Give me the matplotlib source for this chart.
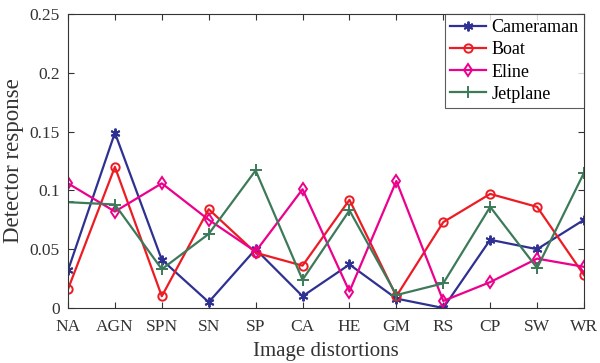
import matplotlib
matplotlib.use("Agg")
import matplotlib.pyplot as plt

categories = ["NA", "AGN", "SPN", "SN", "SP", "CA", "HE", "GM", "RS", "CP", "SW", "WR"]
cameraman = [0.032, 0.149, 0.041, 0.005, 0.050, 0.010, 0.037, 0.008, 0.000, 0.058, 0.050, 0.075]
boat = [0.016, 0.120, 0.010, 0.084, 0.047, 0.036, 0.092, 0.010, 0.073, 0.097, 0.086, 0.028]
eline = [0.106, 0.082, 0.106, 0.075, 0.048, 0.101, 0.014, 0.108, 0.006, 0.022, 0.042, 0.035]
jetplane = [0.090, 0.088, 0.033, 0.063, 0.117, 0.024, 0.083, 0.011, 0.021, 0.086, 0.034, 0.115]
yticks = [0, 0.05, 0.1, 0.15, 0.2, 0.25]
ytick_labels = ["0", "0.05", "0.1", "0.15", "0.2", "0.25"]

plt.rcParams['font.family'] = ['Liberation Serif', 'DejaVu Serif']
plt.rcParams['mathtext.fontset'] = 'stix'

fig = plt.figure(figsize=(6.0, 3.63), dpi=100)
ax = fig.add_axes([68/600, 1-308/363, (584-68)/600, (308-14)/363])

x = list(range(len(categories)))
series = [
    ("Cameraman", cameraman, "#2e3192", (6, 2, 0), 7),
    ("Boat", boat, "#ed1c24", "o", 6),
    ("Eline", eline, "#ec008c", "d", 6),
    ("Jetplane", jetplane, "#3d7a5a", "+", 8),
]
for name, vals, col, mk, ms in series:
    ax.plot(x, vals, color=col, marker=mk, markersize=ms, linewidth=1.6,
            markerfacecolor='none', markeredgecolor=col, markeredgewidth=1.4, label=name)

ax.set_xlim(0, len(categories)-1)
ax.set_ylim(0, 0.25)
ax.set_xticks(x)
ax.set_xticklabels(categories)
ax.set_yticks(yticks)
ax.set_yticklabels(ytick_labels)
ax.tick_params(direction='in', top=True, right=True, labelsize=12.5, colors='#333333', length=4, labelcolor='#333333')
ax.tick_params(axis='x', pad=8)
ax.tick_params(axis='y', pad=6)
for sp in ax.spines.values():
    sp.set_color('#333333')
    sp.set_linewidth(0.8)
ax.set_xlabel("Image distortions", fontsize=15, color='#333333', labelpad=5)
ax.set_ylabel("Detector response", fontsize=16.5, color='#333333', labelpad=4)

leg = ax.legend(loc='upper right', fontsize=13, frameon=True, fancybox=False,
                edgecolor='#333333', borderaxespad=0.0, handlelength=2.0,
                handletextpad=0.3, labelspacing=0.28, borderpad=0.3)
leg.get_frame().set_linewidth(0.8)

fig.savefig("out.png", dpi=100)
